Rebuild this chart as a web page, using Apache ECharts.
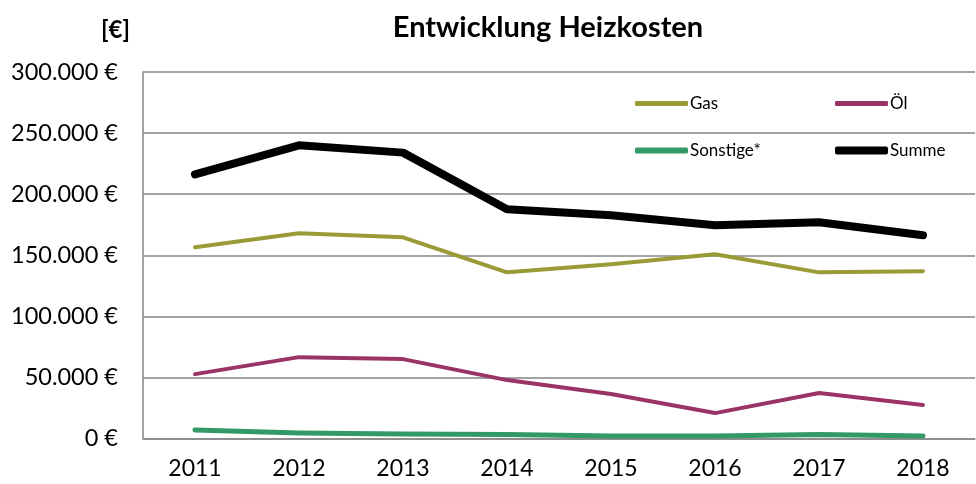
<!DOCTYPE html>
<html>
<head>
<meta charset="utf-8">
<script src="https://cdn.jsdelivr.net/npm/echarts@6/dist/echarts.min.js"></script>
<style>html,body{margin:0;padding:0;background:#fff}#c{width:976px;height:484px}</style>
</head>
<body>
<div id="c"></div>
<script>
const years = ['2011','2012','2013','2014','2015','2016','2017','2018'];
const gas = [156500, 168000, 164700, 136000, 142600, 150800, 136000, 137000];
const oel = [52700, 66600, 65000, 47800, 36400, 20800, 37200, 27400];
const sonstige = [7000, 4500, 3700, 3300, 2000, 2000, 3300, 2000];
const summe = [216200, 240000, 234000, 187600, 182700, 174500, 177000, 166300];
const yTicks = [0, 50000, 100000, 150000, 200000, 250000, 300000];

const FONT = 'Lato';
const colors = { Gas: '#9A9B36', 'Öl': '#9B3466', 'Sonstige*': '#339966', Summe: '#000000' };

function fmt(v) {
  if (v === 0) return '0 €';
  return String(v).replace(/\B(?=(\d{3})+(?!\d))/g, '.') + ' €';
}

function legendAt(name, left, top, h) {
  return {
    data: [name], left: left, top: top, itemWidth: 53, itemHeight: h, itemGap: 0,
    icon: 'roundRect', textStyle: { fontFamily: FONT, fontSize: 17, color: '#000', padding: [0, 0, 0, -3] },
    selectedMode: false
  };
}

const chart = echarts.init(document.getElementById('c'), null, { renderer: 'canvas' });
chart.setOption({
  animation: false,
  backgroundColor: '#fff',
  title: [
    { text: 'Entwicklung Heizkosten', left: 543, textAlign: 'center', top: 8, textStyle: { fontFamily: FONT, fontSize: 29, fontWeight: 'bold', color: '#000' }, },
    { text: '[€]', left: 96, top: 13, textStyle: { fontFamily: FONT, fontSize: 24, fontWeight: 'bold', color: '#000' } }
  ],
  legend: [
    legendAt('Gas', 630, 90, 5),
    legendAt('Öl', 830, 90, 5),
    legendAt('Sonstige*', 630, 137, 6),
    legendAt('Summe', 830, 137, 8)
  ],
  grid: { left: 143, right: 1, top: 72, bottom: 45.5, containLabel: false },
  xAxis: {
    type: 'category', data: years, boundaryGap: true,
    axisLine: { show: true, lineStyle: { color: '#868686', width: 1.5 } },
    axisTick: { show: false },
    axisLabel: { fontFamily: FONT, fontSize: 23, color: '#000', margin: 19 }
  },
  yAxis: {
    type: 'value', min: yTicks[0], max: yTicks[yTicks.length - 1], interval: yTicks[1] - yTicks[0],
    axisLine: { show: true, lineStyle: { color: '#868686', width: 1.5 } },
    axisTick: { show: false },
    splitLine: { show: true, lineStyle: { color: '#868686', width: 1.5 } },
    axisLabel: { fontFamily: FONT, fontSize: 23.5, color: '#000', margin: 25, formatter: fmt }
  },
  series: [
    { name: 'Gas', type: 'line', data: gas, symbol: 'none', lineStyle: { color: colors.Gas, width: 4, cap: 'round', join: 'round' }, itemStyle: { color: colors.Gas } },
    { name: 'Öl', type: 'line', data: oel, symbol: 'none', lineStyle: { color: colors['Öl'], width: 4, cap: 'round', join: 'round' }, itemStyle: { color: colors['Öl'] } },
    { name: 'Sonstige*', type: 'line', data: sonstige, symbol: 'none', lineStyle: { color: colors['Sonstige*'], width: 5, cap: 'round', join: 'round' }, itemStyle: { color: colors['Sonstige*'] } },
    { name: 'Summe', type: 'line', data: summe, symbol: 'none', lineStyle: { color: colors.Summe, width: 8, cap: 'round', join: 'round' }, itemStyle: { color: colors.Summe } }
  ]
});
</script>
</body>
</html>
